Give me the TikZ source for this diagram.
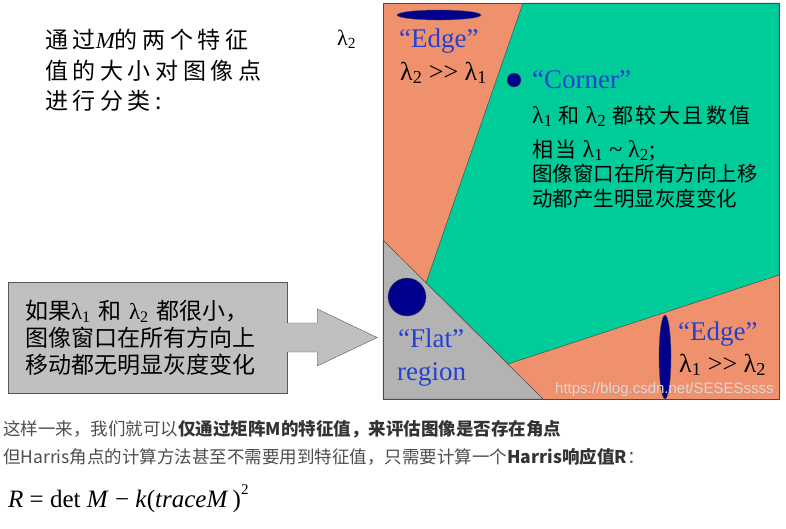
\documentclass[tikz,border=0pt]{standalone}
\usepackage{fontspec}
\setmainfont{Liberation Serif}
\newfontfamily\cjk{Noto Sans CJK SC}
\newfontfamily\cjkwide[LetterSpace=20]{Noto Sans CJK SC}
\newfontfamily\cjkmid[LetterSpace=12]{Noto Sans CJK SC}
\newfontfamily\wmfont{Liberation Sans}
\definecolor{edgeorange}{RGB}{240,145,110}
\definecolor{cornergreen}{RGB}{0,204,153}
\definecolor{flatgray}{RGB}{179,179,179}
\definecolor{dotblue}{RGB}{0,0,140}
\definecolor{labelblue}{RGB}{35,65,210}
\definecolor{boxgray}{RGB}{192,192,192}
\definecolor{bodytext}{RGB}{77,77,77}
\newcommand{\lam}[1]{{\rmfamily λ\textsubscript{#1}}}
\newcommand{\muchgt}{>\kern0pt>}

\begin{document}
\begin{tikzpicture}[x=1pt, y=-1pt,
  border/.style={draw=black!70, line width=0.5pt},
  blob/.style={fill=dotblue, draw=black!70, line width=0.4pt},
  tag/.style={anchor=base west, inner sep=0pt, text=labelblue, font=\fontsize{27}{30}\selectfont},
  rel/.style={anchor=base west, inner sep=0pt, font=\fontsize{26}{30}\selectfont},
  note/.style={anchor=base west, inner sep=0pt},
  flatbox/.style={draw=black!65, fill=boxgray, minimum width=279pt, minimum height=111pt,
    text width=245pt, inner xsep=17pt, inner ysep=0pt, align=left,
    font=\cjk\fontsize{23}{27}\selectfont}
]
  \useasboundingbox (0,0) rectangle (786,528);

  % the lambda plane
  \fill[edgeorange] (383,3) rectangle (779,399);
  \filldraw[border, fill=cornergreen] (523,3) -- (779,3) -- (779,275) -- (508,364) -- (426,283) -- cycle;
  \filldraw[border, fill=flatgray] (383,240) -- (543,399) -- (383,399) -- cycle;
  \draw[border] (383,3) rectangle (779,399);

  \fill[blob] (439,15) ellipse [x radius=42, y radius=5];
  \fill[blob] (514,80) circle [radius=7];
  \fill[blob] (407,297) circle [radius=19];
  \fill[blob] (665,357) ellipse [x radius=6, y radius=42];

  \node[tag] (edgeA) at (399,47) {“Edge”};
  \node[rel] (relA) at (400,80) {\lam{2} \muchgt{} \lam{1}};
  \node[tag] (corner) at (532,88) {“Corner”};
  \node[note, font=\fontsize{24}{27}\selectfont] (c1) at (532,123) {\lam{1} {\cjkmid\fontsize{21}{25}\selectfont 和} \lam{2} {\cjkmid\fontsize{21}{25}\selectfont 都较大且数值}};
  \node[note, font=\fontsize{24}{27}\selectfont] (c2) at (532,157) {{\cjkmid\fontsize{21}{25}\selectfont 相当} \lam{1} \textasciitilde{} \lam{2};};
  \node[note, font=\cjk\fontsize{20.5}{24}\selectfont] (c3) at (532,181) {图像窗口在所有方向上移};
  \node[note, font=\cjk\fontsize{20.5}{24}\selectfont] (c4) at (532,206) {动都产生明显灰度变化};
  \node[tag] (flat) at (398,347) {“Flat”};
  \node[tag] (region) at (397,380) {region};
  \node[tag] (edgeB) at (678,340) {“Edge”};
  \node[rel] (relB) at (679,372) {\lam{1} \muchgt{} \lam{2}};
  \node[note, text=black!15, font=\wmfont\fontsize{15}{18}\selectfont] (mark) at (555,393) {https://blog.csdn.net/SESESssss};

  % title and axis label
  \node[note, font=\cjkwide\fontsize{23}{27}\selectfont] (t1) at (45,48) {通过{\rmfamily\itshape M}的两个特征};
  \node[note, font=\cjkwide\fontsize{23}{27}\selectfont] (t2) at (45,79) {值的大小对图像点};
  \node[note, font=\cjkwide\fontsize{23}{27}\selectfont] (t3) at (45,109) {进行分类:};
  \node[note, font=\fontsize{22}{26}\selectfont] (axis) at (337,45) {\lam{2}};

  % flat region callout
  \node[flatbox] (flatnote) at (147.5,337.5) {如果\lam{1} 和 \lam{2} 都很小，\\图像窗口在所有方向上\\移动都无明显灰度变化};
  \filldraw[draw=black!65, fill=boxgray] (flatnote.east) ++(0,-14.5) -- ++(30,0) -- ++(0,-14)
    -- ++(60,28.5) -- ++(-60,28.5) -- ++(0,-14) -- ++(-30,0);

  % text below
  \node[note, text=bodytext, font=\cjk\fontsize{17.5}{21}\selectfont] (s1) at (3,435)
    {这样一来，我们就可以{\bfseries\color{black!80}仅通过矩阵M的特征值，来评估图像是否存在角点}};
  \node[note, text=bodytext, font=\cjk\fontsize{17.5}{21}\selectfont] (s2) at (3,463)
    {但Harris角点的计算方法甚至不需要用到特征值，只需要计算一个{\bfseries\color{black!80}Harris响应值R}：};
  \node[note, font=\fontsize{25}{28}\selectfont] (formula) at (8,507)
    {\textit{R} = det \textit{M} − \textit{k}(\textit{traceM}\,)\raisebox{1.1ex}{\fontsize{15}{17}\selectfont 2}};
\end{tikzpicture}
\end{document}
